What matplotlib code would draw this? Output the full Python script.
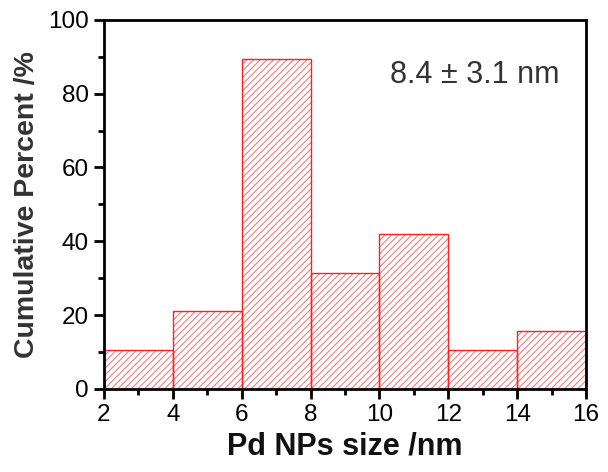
import numpy as np
import matplotlib
matplotlib.use("Agg")
from matplotlib import pyplot as plt
from matplotlib.ticker import MultipleLocator

plt.rcParams["font.family"] = ["Liberation Sans", "DejaVu Sans"]
plt.rcParams["hatch.linewidth"] = 0.8

# histogram bins (nm) and percentages
bin_left = [2, 4, 6, 8, 10, 12, 14]
bin_width = 2
percent = [10.5, 21.0, 89.5, 31.5, 42.0, 10.5, 15.8]

fig = plt.figure(figsize=(6.08, 4.72), dpi=100)
ax = fig.add_axes([0.171, 0.176, 0.793, 0.782])

# hatch layer, lighter red
ax.bar(bin_left, percent, width=bin_width, align="edge",
       facecolor="none", edgecolor="#f08080", hatch="/////", linewidth=0)
# outline layer
ax.bar(bin_left, percent, width=bin_width, align="edge",
       facecolor="none", edgecolor="#ff2020", linewidth=1.0)

ax.set_xlim(2, 16)
ax.set_ylim(0, 100)
ax.xaxis.set_major_locator(MultipleLocator(2))
ax.xaxis.set_minor_locator(MultipleLocator(1))
ax.yaxis.set_major_locator(MultipleLocator(20))
ax.yaxis.set_minor_locator(MultipleLocator(10))

for s in ax.spines.values():
    s.set_linewidth(2)
ax.tick_params(which="both", direction="out", width=2, top=False, right=False)
ax.tick_params(which="major", length=7, labelsize=17.5, pad=4)
ax.tick_params(which="minor", length=4)

ax.set_xlabel("Pd NPs size /nm", fontsize=22, fontweight="bold",
              color="#111111", labelpad=4)
ax.set_ylabel("Cumulative Percent /%", fontsize=20.5, fontweight="bold",
              color="#333333", labelpad=6)

ax.text(10.3, 85, "8.4 \u00b1 3.1 nm", fontsize=22, color="#333333",
        ha="left", va="center")

plt.savefig("out.png", dpi=100)
